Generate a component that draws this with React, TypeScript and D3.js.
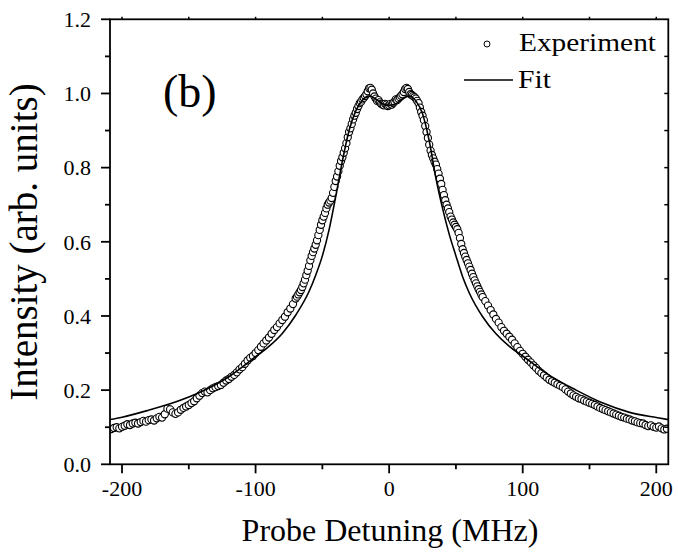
import React from 'react';
import * as d3 from 'd3';

const W = 678;
const H = 560;
const PLOT = { left: 110, right: 668.3, top: 19.3, bottom: 464.3 };

const xTicks = [-200, -100, 0, 100, 200];
const xMinorTicks = [-150, -50, 50, 150];
const yTicks = [0, 0.2, 0.4, 0.6, 0.8, 1.0, 1.2];
const yMinorTicks = [0.1, 0.3, 0.5, 0.7, 0.9, 1.1];
const topTicks = [-200, -150, -100, -50, 0, 50, 100, 150, 200];
const rightTicks = [0.1, 0.2, 0.3, 0.4, 0.5, 0.6, 0.7, 0.8, 0.9, 1.0, 1.1];

// Experiment: left wing, detuning -208 .. -72 MHz (2 MHz steps)
const expLeftTail = [
  0.095, 0.098, 0.100, 0.097, 0.101, 0.104, 0.108, 0.106, 0.110, 0.112,
  0.110, 0.114, 0.117, 0.115, 0.119, 0.121, 0.118, 0.124, 0.128, 0.126,
  0.135, 0.150, 0.148, 0.140, 0.136, 0.140, 0.147, 0.152, 0.156, 0.160,
  0.165, 0.170, 0.178, 0.185, 0.192, 0.196, 0.194, 0.200, 0.205, 0.208,
  0.211, 0.214, 0.220, 0.226, 0.230, 0.236, 0.241, 0.248, 0.256, 0.262,
  0.271, 0.280, 0.287, 0.292, 0.300, 0.308, 0.317, 0.326, 0.334, 0.342,
  0.352, 0.362, 0.370, 0.380, 0.389, 0.398, 0.410, 0.420, 0.432,
];
// Experiment: core, detuning -70 .. 70 MHz (1 MHz steps)
const expCore = [
  0.447, 0.452, 0.458, 0.464, 0.470, 0.478, 0.488, 0.498, 0.510, 0.522,
  0.535, 0.550, 0.562, 0.572, 0.582, 0.592, 0.604, 0.618, 0.632, 0.646,
  0.658, 0.668, 0.678, 0.690, 0.700, 0.706, 0.711, 0.718, 0.732, 0.748,
  0.764, 0.776, 0.790, 0.805, 0.818, 0.828, 0.840, 0.852, 0.866, 0.882,
  0.896, 0.906, 0.918, 0.930, 0.940, 0.948, 0.958, 0.966, 0.974, 0.978,
  0.984, 0.988, 0.993, 0.998, 1.006, 1.014, 1.015, 1.010, 1.000, 0.992,
  0.986, 0.980, 0.982, 0.976, 0.972, 0.970, 0.968, 0.972, 0.970, 0.966,
  0.968, 0.972, 0.970, 0.974, 0.978, 0.984, 0.982, 0.986, 0.990, 0.994,
  0.998, 1.004, 1.012, 1.015, 1.012, 1.004, 0.998, 0.996, 0.993, 0.990,
  0.986, 0.980, 0.974, 0.962, 0.950, 0.940, 0.928, 0.912, 0.896, 0.880,
  0.862, 0.846, 0.834, 0.825, 0.816, 0.808, 0.796, 0.784, 0.770, 0.756,
  0.740, 0.726, 0.712, 0.700, 0.690, 0.680, 0.668, 0.660, 0.652, 0.646,
  0.640, 0.634, 0.624, 0.610, 0.594, 0.580, 0.570, 0.560, 0.551, 0.542,
  0.533, 0.524, 0.514, 0.505, 0.496, 0.488, 0.480, 0.472, 0.465, 0.458,
  0.451,
];
// Experiment: right wing, detuning 72 .. 208 MHz (2 MHz steps)
const expRightTail = [
  0.440, 0.428, 0.416, 0.404, 0.392, 0.382, 0.370, 0.360, 0.352, 0.344,
  0.336, 0.326, 0.316, 0.306, 0.298, 0.290, 0.282, 0.275, 0.267, 0.260,
  0.252, 0.246, 0.240, 0.234, 0.228, 0.224, 0.220, 0.216, 0.212, 0.208,
  0.202, 0.196, 0.191, 0.186, 0.182, 0.178, 0.176, 0.172, 0.169, 0.166,
  0.163, 0.160, 0.156, 0.152, 0.149, 0.146, 0.143, 0.140, 0.137, 0.134,
  0.131, 0.128, 0.126, 0.123, 0.121, 0.118, 0.116, 0.113, 0.111, 0.110,
  0.106, 0.103, 0.105, 0.101, 0.099, 0.102, 0.097, 0.094, 0.096,
];

const fitDetuning = [
  -210, -200, -180, -160, -140, -120, -100, -90, -80, -70, -60, -55, -50, -45,
  -40, -35, -30, -25, -20, -15, -10, -5, 0, 5, 10, 15, 20, 25, 30, 35, 40, 45,
  50, 55, 60, 70, 80, 90, 100, 120, 140, 160, 180, 200, 210,
];
const fitIntensity = [
  0.120, 0.127, 0.146, 0.168, 0.197, 0.236, 0.290, 0.318, 0.353, 0.402, 0.466, 0.510, 0.562, 0.632,
  0.722, 0.818, 0.900, 0.953, 0.982, 0.993, 0.985, 0.972, 0.968, 0.972, 0.985, 0.993, 0.980, 0.945, 0.872, 0.772, 0.690, 0.620,
  0.562, 0.506, 0.462, 0.398, 0.352, 0.318, 0.292, 0.240, 0.200, 0.165, 0.140, 0.126, 0.120,
];

const FONT = "'Liberation Serif', 'Times New Roman', Times, serif";

export default function App() {
  const x = d3.scaleLinear().domain([-209, 209]).range([PLOT.left, PLOT.right]);
  const y = d3.scaleLinear().domain([0, 1.2]).range([PLOT.bottom, PLOT.top]);

  const expPoints: [number, number][] = [
    ...d3.range(-208, -71, 2).map((d, i) => [d, expLeftTail[i]] as [number, number]),
    ...d3.range(-70, 71, 1).map((d, i) => [d, expCore[i]] as [number, number]),
    ...d3.range(72, 209, 2).map((d, i) => [d, expRightTail[i]] as [number, number]),
  ];

  const fitLine = d3
    .line<number>()
    .x((_, i) => x(fitDetuning[i]))
    .y((d) => y(d))
    .curve(d3.curveMonotoneX);

  const axisW = 1.8;
  const txt = { fontFamily: FONT, fill: '#000' } as React.CSSProperties;

  return (
    <svg width={W} height={H} style={{ position: 'absolute', left: 0, top: 0, background: '#fff' }}>
      <defs>
        <clipPath id="plotClip">
          <rect x={PLOT.left} y={PLOT.top} width={PLOT.right - PLOT.left} height={PLOT.bottom - PLOT.top} />
        </clipPath>
      </defs>
      <rect x={0} y={0} width={W} height={H} fill="#fff" />

      {/* data */}
      <g clipPath="url(#plotClip)">
        {expPoints.map(([d, v], i) => (
          <circle key={i} cx={x(d)} cy={y(v)} r={3.6} fill="#fff" stroke="#000" strokeWidth={1.1} />
        ))}
        <path d={fitLine(fitIntensity) || ''} fill="none" stroke="#000" strokeWidth={1.6} />
      </g>

      {/* frame */}
      <rect x={PLOT.left} y={PLOT.top} width={PLOT.right - PLOT.left} height={PLOT.bottom - PLOT.top}
        fill="none" stroke="#000" strokeWidth={axisW} />

      {/* bottom axis ticks */}
      {xTicks.map((t) => (
        <g key={'xt' + t}>
          <line x1={x(t)} x2={x(t)} y1={PLOT.bottom} y2={PLOT.bottom + 9} stroke="#000" strokeWidth={axisW} />
          <text x={x(t)} y={496} textAnchor="middle" style={{ ...txt, fontSize: 22 }}>{t}</text>
        </g>
      ))}
      {xMinorTicks.map((t) => (
        <line key={'xm' + t} x1={x(t)} x2={x(t)} y1={PLOT.bottom} y2={PLOT.bottom + 5} stroke="#000" strokeWidth={axisW} />
      ))}
      {topTicks.map((t) => (
        <line key={'tt' + t} x1={x(t)} x2={x(t)} y1={PLOT.top} y2={PLOT.top - 2.5} stroke="#000" strokeWidth={1.5} />
      ))}

      {/* left axis ticks */}
      {yTicks.map((t) => (
        <g key={'yt' + t}>
          <line x1={PLOT.left - 9} x2={PLOT.left} y1={y(t)} y2={y(t)} stroke="#000" strokeWidth={axisW} />
          <text x={91} y={y(t)} dy="0.35em" textAnchor="end" style={{ ...txt, fontSize: 22 }}>{t.toFixed(1)}</text>
        </g>
      ))}
      {yMinorTicks.map((t) => (
        <line key={'ym' + t} x1={PLOT.left - 5} x2={PLOT.left} y1={y(t)} y2={y(t)} stroke="#000" strokeWidth={axisW} />
      ))}
      {rightTicks.map((t) => (
        <line key={'rt' + t} x1={PLOT.right - 4} x2={PLOT.right} y1={y(t)} y2={y(t)} stroke="#000" strokeWidth={1.5} />
      ))}

      {/* axis titles */}
      <text x={390} y={541} textAnchor="middle" style={{ ...txt, fontSize: 32 }}>Probe Detuning (MHz)</text>
      <text transform="translate(37,242) rotate(-90)" textAnchor="middle" style={{ ...txt, fontSize: 39 }}>
        Intensity (arb. units)
      </text>

      {/* panel label */}
      <text x={163} y={107} style={{ ...txt, fontSize: 46 }}>(b)</text>

      {/* legend */}
      <circle cx={487} cy={44} r={3} fill="#fff" stroke="#000" strokeWidth={1} />
      <text x={519} y={51} style={{ ...txt, fontSize: 26 }} textLength={137} lengthAdjust="spacingAndGlyphs">Experiment</text>
      <line x1={464} x2={513} y1={80} y2={80} stroke="#000" strokeWidth={1.6} />
      <text x={518} y={88} style={{ ...txt, fontSize: 26 }} textLength={33} lengthAdjust="spacingAndGlyphs">Fit</text>
    </svg>
  );
}
